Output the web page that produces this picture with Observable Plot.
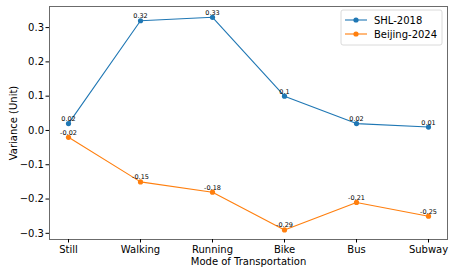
<!DOCTYPE html>
<html>
<head>
<meta charset="utf-8">
<script src="https://cdn.jsdelivr.net/npm/d3@7"></script>
<script src="https://cdn.jsdelivr.net/npm/@observablehq/plot@0.6"></script>
<style>
  html, body { margin: 0; padding: 0; background: #fff; }
  svg { display: block; }
</style>
</head>
<body>
<div id="chart"></div>
<script>
const modes = ["Still", "Walking", "Running", "Bike", "Bus", "Subway"];
const seriesNames = ["SHL-2018", "Beijing-2024"];
const shl = [0.02, 0.32, 0.33, 0.1, 0.02, 0.01];
const beijing = [-0.02, -0.15, -0.18, -0.29, -0.21, -0.25];
const yTicks = [-0.3, -0.2, -0.1, 0.0, 0.1, 0.2, 0.3];
const colors = ["#1f77b4", "#ff7f0e"];

const data = [];
modes.forEach((m, i) => data.push({mode: m, value: shl[i], series: seriesNames[0]}));
modes.forEach((m, i) => data.push({mode: m, value: beijing[i], series: seriesNames[1]}));

const W = 458, H = 275;
const fontFamily = "DejaVu Sans, sans-serif";

const chart = Plot.plot({
  width: W,
  height: H,
  marginLeft: 49,
  marginRight: 11,
  marginTop: 6,
  marginBottom: 36,
  style: {fontFamily, fontSize: "10px", color: "#000", background: "#fff"},
  x: {type: "point", domain: modes, padding: 0.25, label: null},
  y: {domain: [-0.318, 0.3615], label: null},
  color: {domain: seriesNames, range: colors},
  marks: [
    Plot.frame({stroke: "#6b6b6b", strokeWidth: 1}),
    Plot.axisX({ticks: modes, tickSize: 3.5, tickPadding: 3, fontSize: 10, label: null}),
    Plot.axisY({ticks: yTicks, tickFormat: d3.format(".1f"), tickSize: 3.5, tickPadding: 2, fontSize: 10, label: null}),
    Plot.line(data, {x: "mode", y: "value", z: "series", stroke: "series", strokeWidth: 1.1}),
    Plot.dot(data, {x: "mode", y: "value", fill: "series", r: 2.6}),
    Plot.text(data, {x: "mode", y: "value", text: d => String(d.value), lineAnchor: "bottom", dy: -2.5, fontSize: 6.5, fill: "#000"}),
    Plot.text(["Mode of Transportation"], {frameAnchor: "bottom", lineAnchor: "middle", textAnchor: "middle", dy: 22, text: d => d, fontSize: 10, fill: "#000"}),
    Plot.text(["Variance (Unit)"], {frameAnchor: "left", textAnchor: "middle", lineAnchor: "middle", dx: -36, rotate: -90, text: d => d, fontSize: 10, fill: "#000"})
  ]
});

// Legend
const svg = d3.select(chart);
const lg = svg.append("g").attr("font-family", fontFamily).attr("font-size", 10).attr("text-anchor", "start");
lg.append("rect").attr("x", 341).attr("y", 10).attr("width", 101).attr("height", 35)
  .attr("rx", 2).attr("fill", "#fff").attr("fill-opacity", 0.8).attr("stroke", "#d0d0d0").attr("stroke-width", 0.8);
seriesNames.forEach((s, i) => {
  const y = 20 + i * 14;
  lg.append("line").attr("x1", 345).attr("x2", 367).attr("y1", y).attr("y2", y)
    .attr("stroke", colors[i]).attr("stroke-width", 1.1);
  lg.append("circle").attr("cx", 356).attr("cy", y).attr("r", 2.6).attr("fill", colors[i]);
  lg.append("text").attr("x", 374).attr("y", y).attr("dy", "0.35em").attr("text-anchor", "start").attr("fill", "#000").text(s);
});

document.getElementById("chart").appendChild(chart);
</script>
</body>
</html>
